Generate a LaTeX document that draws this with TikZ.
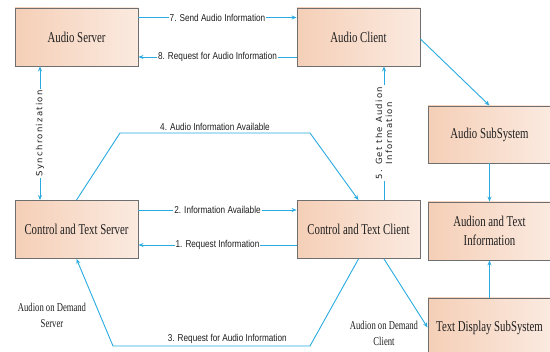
\documentclass[tikz,border=0pt]{standalone}
\usepackage{fontspec}
\setmainfont{Liberation Serif}
\newfontfamily\boxfont[FakeStretch=0.72]{Liberation Serif}
\newfontfamily\labfont[FakeStretch=0.82]{Liberation Sans}
\newfontfamily\rotfont[LetterSpace=15]{DejaVu Sans}
\usetikzlibrary{arrows.meta,calc}
\definecolor{linkblue}{HTML}{29ABE2}
\definecolor{boxdark}{HTML}{F5CFB7}
\definecolor{boxlight}{HTML}{FBEAE0}
\definecolor{boxedge}{HTML}{6F6F6F}
\begin{document}
\begin{tikzpicture}[x=1pt,y=-1pt,
  >={Stealth[length=5pt,width=4pt]},
  box/.style={draw=boxedge,line width=0.9pt,left color=boxdark,right color=boxlight,
    minimum width=123pt,minimum height=58pt,inner sep=0pt,align=center,
    font=\boxfont\fontsize{15}{19}\selectfont,text=black!88},
  link/.style={draw=linkblue,line width=0.9pt,->},
  lab/.style={font=\labfont\fontsize{10}{12}\selectfont,fill=white,inner sep=1pt,text=black!88},
  toplab/.style={font=\labfont\fontsize{10}{12}\selectfont,inner sep=1.5pt,text=black!88},
  rlab/.style={font=\rotfont\fontsize{8.5}{10}\selectfont,fill=white,inner sep=1.5pt,rotate=90,align=center,text=black!88},
  note/.style={font=\boxfont\fontsize{12}{16}\selectfont,align=center,text=black!88}]

\useasboundingbox (0,0) rectangle (550,352);
\fill[white] (0,0) rectangle (550,352);

% boxes
\node[box] (as) at (76.5,37) {Audio Server};
\node[box] (ac) at (358.5,37) {Audio Client};
\node[box] (cts) at (76.5,229.5) {Control and Text Server};
\node[box] (ctc) at (358.5,229.5) {Control and Text Client};
\node[box,minimum height=57pt] (ass) at (489.5,134.5) {Audio SubSystem};
\node[box] (ati) at (489.5,231) {Audion and Text\\Information};
\node[box,minimum height=59pt] (tds) at (489.5,327.5) {Text Display SubSystem};

% free corners
\coordinate (k4a) at (120,133);
\coordinate (k4b) at (310,133);
\coordinate (k3a) at (310,346);
\coordinate (k3b) at (113,346);

% connectors
\draw[link] ([yshift=19.5pt]as.east) -- node[lab]{7. Send Audio Information} ([yshift=19.5pt]ac.west);
\draw[link] ([yshift=-20pt]ac.west) -- node[lab]{8. Request for Audio Information} ([yshift=-20pt]as.east);
\draw[link,<->] ([xshift=-36.5pt]as.south) -- node[rlab]{Synchronization} ([xshift=-36.5pt]cts.north);
\draw[link] ([xshift=25.5pt]ctc.north) -- node[rlab]{5. Get the Audion\\Information} ([xshift=25.5pt]ac.south);
\draw[link] (cts.north) -- (k4a) -- node[toplab,above]{4. Audio Information Available} (k4b) -- (ctc.north);
\draw[link] ([yshift=19.5pt]cts.east) -- node[lab]{2. Information Available} ([yshift=19.5pt]ctc.west);
\draw[link] ([yshift=-15.5pt]ctc.west) -- node[lab]{1. Request Information} ([yshift=-15.5pt]cts.east);
\draw[link] (ctc.south) -- (k3a) -- node[toplab,above,pos=0.42]{3. Request for Audio Information} (k3b) -- (cts.south);
\draw[link] ([xshift=25.5pt]ctc.south) -- (tds.west);
\draw[link] ([yshift=-2pt]ac.east) -- (ass.north);
\draw[link] (ass.south) -- (ati.north);
\draw[link] (tds.north) -- (ati.south);

% notes
\node[note] (ns) at (52,315) {Audion on Demand\\Server};
\node[note] (nc) at (384,333) {Audion on Demand\\Client};
\end{tikzpicture}
\end{document}
